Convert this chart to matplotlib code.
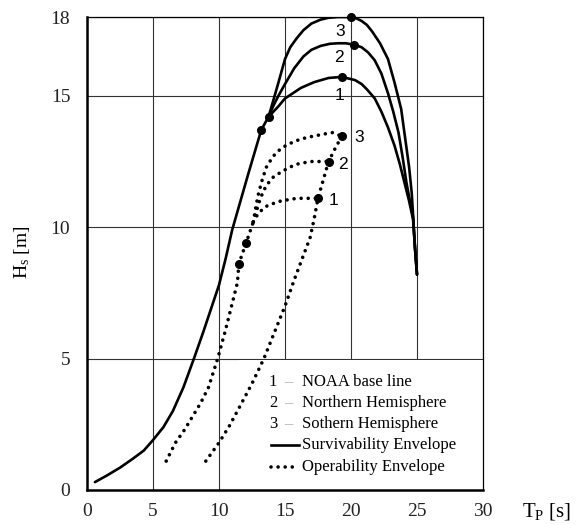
import matplotlib
matplotlib.use("Agg")
import matplotlib.pyplot as plt
from matplotlib.patches import Rectangle

plt.rcParams['font.family'] = ['Liberation Serif', 'DejaVu Serif']
plt.rcParams['mathtext.fontset'] = 'custom'
plt.rcParams['mathtext.rm'] = 'Liberation Serif'
plt.rcParams['mathtext.it'] = 'Liberation Serif'

# Survivability envelope: common rising part, then one branch per data set
surv_base_x = [0.6, 1.5, 2.5, 3.5, 4.3, 5.0, 5.8, 6.5, 7.3, 8.1, 8.8, 9.4, 10.0, 10.5, 11.0, 12.2, 13.2, 13.75]
surv_base_y = [0.3, 0.55, 0.85, 1.2, 1.5, 1.9, 2.4, 3.0, 3.9, 5.0, 6.0, 6.9, 7.8, 8.8, 9.9, 12.0, 13.7, 14.2]

surv1_x = [13.75, 14.5, 15.0, 15.6, 16.2, 17.2, 18.3, 19.3, 20.3, 20.8, 21.2, 21.8, 22.3, 22.8, 23.3, 23.7, 24.0, 24.4, 24.7, 24.85, 25.0]
surv1_y = [14.2, 14.6, 14.9, 15.1, 15.3, 15.52, 15.68, 15.72, 15.6, 15.45, 15.25, 14.9, 14.4, 13.8, 13.1, 12.4, 11.8, 11.0, 10.3, 9.2, 8.2]
surv2_x = [13.75, 14.1, 14.5, 15.0, 15.7, 16.4, 17.0, 17.7, 18.4, 19.0, 19.6, 20.2, 20.8, 21.3, 21.8, 22.3, 22.8, 23.2, 23.6, 23.9, 24.2, 24.5, 24.7, 24.85, 25.0]
surv2_y = [14.2, 14.6, 15.0, 15.45, 16.05, 16.5, 16.75, 16.9, 16.98, 17.0, 17.0, 16.95, 16.85, 16.65, 16.35, 15.85, 15.1, 14.4, 13.6, 12.7, 11.7, 10.9, 10.4, 9.2, 8.2]
surv3_x = [13.75, 14.1, 14.5, 15.0, 15.4, 15.9, 16.4, 17.0, 17.7, 18.3, 19.0, 19.6, 20.0, 20.4, 20.8, 21.2, 21.6, 22.2, 22.8, 23.3, 23.8, 24.1, 24.4, 24.6, 24.7, 24.85, 25.0]
surv3_y = [14.2, 14.8, 15.5, 16.4, 16.85, 17.2, 17.5, 17.75, 17.9, 17.97, 18.0, 18.0, 18.0, 17.95, 17.85, 17.7, 17.45, 17.0, 16.4, 15.5, 14.5, 13.4, 12.3, 11.3, 10.5, 9.2, 8.2]

# Operability envelope
oper_left_x = [6.0, 6.7, 7.4, 8.0, 8.6, 9.2, 9.9, 10.5, 11.0, 11.4, 11.5, 12.05, 12.6]
oper_left_y = [1.1, 1.8, 2.3, 2.8, 3.3, 3.9, 5.0, 6.1, 7.1, 7.9, 8.6, 9.4, 10.2]
oper_right_x = [9.0, 10.0, 10.8, 11.6, 12.5, 13.4, 14.2, 15.0, 15.7, 16.3, 16.9, 17.2, 17.5, 17.9, 18.3, 18.8, 19.3]
oper_right_y = [1.1, 1.8, 2.45, 3.2, 4.05, 5.0, 6.0, 7.0, 8.0, 8.8, 9.6, 10.3, 11.1, 11.8, 12.5, 13.0, 13.46]
oper1_x = [12.6, 13.0, 13.6, 14.2, 14.7, 15.3, 15.9, 16.8, 17.5]
oper1_y = [10.2, 10.55, 10.8, 10.92, 11.0, 11.05, 11.1, 11.1, 11.1]
oper2_x = [12.6, 13.0, 13.3, 13.6, 14.1, 14.7, 15.3, 15.9, 16.4, 17.0, 17.7, 18.3]
oper2_y = [10.2, 10.9, 11.3, 11.6, 11.9, 12.1, 12.27, 12.4, 12.45, 12.5, 12.5, 12.5]
oper3_x = [12.6, 12.8, 13.0, 13.3, 13.6, 14.1, 14.7, 15.3, 15.9, 16.4, 17.0, 17.5, 18.0, 18.6, 19.3]
oper3_y = [10.2, 10.8, 11.3, 11.85, 12.3, 12.7, 13.0, 13.17, 13.3, 13.38, 13.45, 13.5, 13.55, 13.6, 13.46]

# marked points
dots_x = [13.2, 13.75, 11.5, 12.05, 20.0, 20.2, 19.3, 19.3, 18.3, 17.5]
dots_y = [13.7, 14.2, 8.6, 9.4, 18.0, 16.95, 15.72, 13.46, 12.5, 11.1]

# curve number labels
surv_lab = ['3', '2', '1']
surv_lab_x = [19.2, 19.1, 19.1]
surv_lab_y = [17.45, 16.45, 15.0]
oper_lab = ['3', '2', '1']
oper_lab_x = [20.6, 19.4, 18.7]
oper_lab_y = [13.4, 12.4, 11.0]

legend_nums = ['1', '2', '3']
legend_names = ['NOAA base line', 'Northern Hemisphere', 'Sothern Hemisphere']

fig = plt.figure(figsize=(5.86, 5.25), dpi=100)
ax = fig.add_axes([87 / 586, 1 - 490 / 525, 396 / 586, 473 / 525])

solid = dict(color='black', lw=1.9, solid_joinstyle='round', solid_capstyle='round', zorder=3)
dot_style = (0, (0.01, 1.95))
dotted = dict(color='black', lw=2.6, linestyle=dot_style, dash_capstyle='round', zorder=3)

ax.plot(surv_base_x, surv_base_y, **solid)
for xs, ys in [(surv1_x, surv1_y), (surv2_x, surv2_y), (surv3_x, surv3_y)]:
    ax.plot(xs, ys, **solid)

for xs, ys in [(oper_left_x, oper_left_y), (oper_right_x, oper_right_y),
               (oper1_x, oper1_y), (oper2_x, oper2_y), (oper3_x, oper3_y)]:
    ax.plot(xs, ys, **dotted)

ax.plot(dots_x, dots_y, 'o', color='black', ms=5.5, zorder=4, clip_on=False)

for t, x, y in zip(surv_lab, surv_lab_x, surv_lab_y):
    ax.text(x, y, t, family='Liberation Sans', fontsize=12.5, ha='center', va='center', zorder=5)
for t, x, y in zip(oper_lab, oper_lab_x, oper_lab_y):
    ax.text(x, y, t, family='Liberation Sans', fontsize=12.5, ha='center', va='center', zorder=5)

ax.set_xlim(0, 30)
ax.set_ylim(0, 18)
ax.set_xticks([0, 5, 10, 15, 20, 25, 30])
ax.set_yticks([0, 5, 10, 15, 18])
ax.grid(True, color='#333333', lw=0.8)
ax.set_axisbelow(True)
ax.tick_params(length=0, labelsize=14, colors='#222222')
ax.tick_params(axis='y', pad=12)
ax.tick_params(axis='x', pad=9)
for s in ['left', 'bottom']:
    ax.spines[s].set_linewidth(1.8)
for s in ['top', 'right']:
    ax.spines[s].set_linewidth(0.9)

# legend area (covers the grid in the lower right corner)
ax.add_patch(Rectangle((11.5, 0), 18.5, 4.96, facecolor='white', edgecolor='none', zorder=1))

row_y = [0.228, 0.184, 0.140, 0.095, 0.049]
for i in range(3):
    ax.text(0.470, row_y[i], legend_nums[i], transform=ax.transAxes, fontsize=12, ha='center', va='center', zorder=5)
    ax.text(0.509, row_y[i], '\u2013', transform=ax.transAxes, fontsize=12, color='#b0b0b0', ha='center', va='center', zorder=5)
    ax.text(0.543, row_y[i], legend_names[i], transform=ax.transAxes, fontsize=12, ha='left', va='center', zorder=5)
ax.plot([0.465, 0.535], [row_y[3], row_y[3]], transform=ax.transAxes, color='black', lw=1.9, zorder=5)
ax.plot([0.465, 0.535], [row_y[4], row_y[4]], transform=ax.transAxes, color='black', lw=2.6,
        linestyle=dot_style, dash_capstyle='round', zorder=5)
ax.text(0.543, row_y[3], 'Survivability Envelope', transform=ax.transAxes, fontsize=12, ha='left', va='center', zorder=5)
ax.text(0.543, row_y[4], 'Operability Envelope', transform=ax.transAxes, fontsize=12, ha='left', va='center', zorder=5)

fig.text(22 / 586, 1 - 252 / 525, r'H$_{\mathrm{s}}$ [m]', rotation=90, fontsize=14, ha='center', va='center')
fig.text(522 / 586, 1 - 511 / 525, r'T$_{\mathrm{P}}$ [s]', fontsize=15, ha='left', va='center')

fig.savefig('out.png', dpi=100)
